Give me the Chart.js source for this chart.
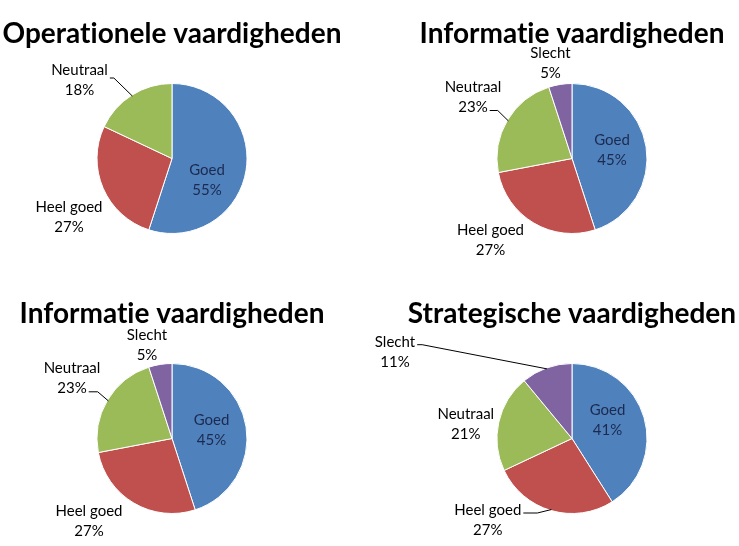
<!DOCTYPE html>
<html>
<head>
<meta charset="utf-8">
<script src="https://cdn.jsdelivr.net/npm/chart.js@4/dist/chart.umd.min.js"></script>
<style>
  html, body { margin: 0; padding: 0; background: #fff; overflow: hidden; width: 739px; height: 546px; }
  #wrap { position: relative; width: 739px; height: 546px; overflow: hidden; }
  canvas { position: absolute; }
</style>
</head>
<body>
<div id="wrap">
  <canvas id="c1" width="400" height="273" style="left:-28px; top:0px;"></canvas>
  <canvas id="c2" width="400" height="273" style="left:372px; top:0px;"></canvas>
  <canvas id="c3" width="400" height="273" style="left:-28px; top:280px;"></canvas>
  <canvas id="c4" width="400" height="273" style="left:372px; top:280px;"></canvas>
</div>
<script>
// ---- data ----
const categories = ['Goed', 'Heel goed', 'Neutraal', 'Slecht'];
const titles = ['Operationele vaardigheden', 'Informatie vaardigheden', 'Informatie vaardigheden', 'Strategische vaardigheden'];
const operationeleValues = [55, 27, 18];
const informatieValuesA = [45, 27, 23, 5];
const informatieValuesB = [45, 27, 23, 5];
const strategischeValues = [41, 27, 21, 11];

// ---- styles ----
const sliceColors = ['#4F81BD', '#C0504D', '#9BBB59', '#8064A2'];
const FONT = 'Lato, "Open Sans", "DejaVu Sans", sans-serif';

// label placement, relative to the pie centre (px); leader: [line index, horizontal length, drop]
const labelLayouts = [
  [ {dx: 35, dy: 12, inside: true}, {dx: -103, dy: 49}, {dx: -92.5, dy: -88.5, leader: [0, 4, 8]} ],
  [ {dx: 40, dy: -18.5, inside: true}, {dx: -81.5, dy: 71.5}, {dx: -99, dy: -71.5, leader: [1, 8, 3.5]}, {dx: -21.5, dy: -105.5} ],
  [ {dx: 39.5, dy: -18.3, inside: true}, {dx: -83, dy: 72.3}, {dx: -100, dy: -70, leader: [1, 9, 3.3]}, {dx: -25, dy: -103.5} ],
  [ {dx: 35.5, dy: -28.2, inside: true}, {dx: -84.2, dy: 71.2, leader: [0, 14, 3.3]}, {dx: -106.2, dy: -24.8}, {dx: -177, dy: -96.2, leader: [0, 5, 2.4]} ]
];

const labelPlugin = {
  id: 'pieLabels',
  afterDatasetsDraw(chart, args, opts) {
    const ctx = chart.ctx;
    const meta = chart.getDatasetMeta(0);
    const arcs = meta.data;
    if (!arcs.length) return;
    const cx = arcs[0].x, cy = arcs[0].y;
    const R = arcs[0].outerRadius;
    const vals = chart.data.datasets[0].data;
    ctx.save();
    // title
    ctx.font = 'bold 28px ' + FONT;
    if ('letterSpacing' in ctx) ctx.letterSpacing = '0.01px';
    ctx.fillStyle = '#000';
    ctx.textAlign = 'center';
    ctx.textBaseline = 'alphabetic';
    ctx.fillText(opts.title, cx, cy - 115.5);
    // labels
    ctx.font = '15px ' + FONT;
    ctx.textBaseline = 'middle';
    const lineGap = 20;
    arcs.forEach((arc, i) => {
      const L = opts.layout[i];
      if (!L) return;
      const lines = [chart.data.labels[i], vals[i] + '%'];
      const x = cx + L.dx, y = cy + L.dy;
      ctx.fillStyle = L.inside ? '#1c2a4f' : '#000';
      lines.forEach((t, k) => ctx.fillText(t, x, y + k * lineGap));
      if (L.leader) {
        const [li, len, drop] = L.leader;
        const w = ctx.measureText(lines[li]).width;
        const sx = x + w / 2 + 2, sy = y + li * lineGap + drop;
        const mid = (arc.startAngle + arc.endAngle) / 2;
        const ex = cx + Math.cos(mid) * (R - 1), ey = cy + Math.sin(mid) * (R - 1);
        ctx.strokeStyle = '#000';
        ctx.lineWidth = 1;
        ctx.beginPath();
        ctx.moveTo(sx, sy);
        ctx.lineTo(sx + len, sy);
        ctx.lineTo(ex, ey);
        ctx.stroke();
      }
    });
    ctx.restore();
  }
};

function makePie(id, values, title, layout) {
  const labels = categories.slice(0, values.length);
  new Chart(document.getElementById(id), {
    type: 'pie',
    data: {
      labels: labels,
      datasets: [{
        data: values,
        backgroundColor: sliceColors.slice(0, values.length),
        borderColor: '#ffffff',
        borderWidth: 1,
        hoverOffset: 0
      }]
    },
    options: {
      responsive: false,
      animation: false,
      devicePixelRatio: 1,
      layout: { padding: { left: 124.5, right: 124.5, top: 83, bottom: 39 } },
      plugins: {
        legend: { display: false },
        tooltip: { enabled: false },
        title: { display: false },
        pieLabels: { title: title, layout: layout }
      }
    },
    plugins: [labelPlugin]
  });
}

makePie('c1', operationeleValues, titles[0], labelLayouts[0]);
makePie('c2', informatieValuesA, titles[1], labelLayouts[1]);
makePie('c3', informatieValuesB, titles[2], labelLayouts[2]);
makePie('c4', strategischeValues, titles[3], labelLayouts[3]);
</script>
</body>
</html>
